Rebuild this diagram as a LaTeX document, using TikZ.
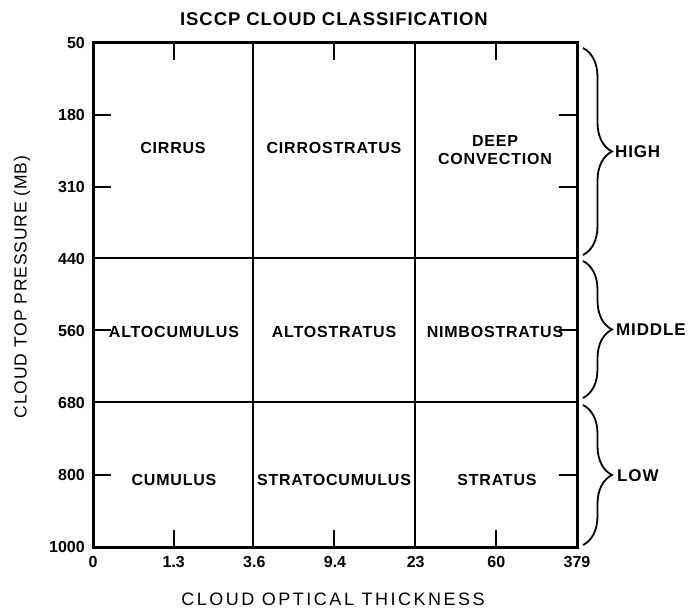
\documentclass[tikz,border=0pt]{standalone}
\usepackage{fontspec}
\setmainfont{Liberation Sans}
\newfontfamily\widefont[LetterSpace=5]{Liberation Sans}
\newfontfamily\widerfont[LetterSpace=14]{Liberation Sans}
\usetikzlibrary{decorations.pathreplacing}
\begin{document}
\begin{tikzpicture}[x=1pt,y=-1pt,
	cell/.style={font=\widefont\bfseries\fontsize{16}{18}\selectfont,align=center,inner sep=1},
	num/.style={font=\bfseries\fontsize{16}{17}\selectfont,inner sep=1},
	axislabel/.style={font=\widerfont\fontsize{18}{19}\selectfont,inner sep=0},
	band/.style={font=\widefont\bfseries\fontsize{17}{18}\selectfont,anchor=west,inner sep=0},
	divider/.style={line width=2.2pt},
	tickmark/.style={line width=1.3pt},
	bracket/.style={line width=1.8pt,decorate,decoration={brace,amplitude=29pt}}]
\useasboundingbox (0,0) rectangle (693,610);
\node[font=\widefont\bfseries\fontsize{18.5}{20}\selectfont] (title) at (334,19) {ISCCP CLOUD CLASSIFICATION};
\draw[line width=3pt] (93,43) rectangle (577,547);
\draw[divider] (93,258) -- (577,258) (93,402) -- (577,402);
\draw[divider] (253,43) -- (253,547) (415,43) -- (415,547);
\foreach \y in {115,187,330,475} {
	\draw[tickmark] (93,\y) -- +(18,0);
	\draw[tickmark] (577,\y) -- +(-18,0);
}
\foreach \x in {174,334,496} {
	\draw[tickmark] (\x,43) -- +(0,17);
	\draw[tickmark] (\x,547) -- +(0,-17);
}
\foreach \v [count=\i from 0] in {50,180,310,440,560,680,800,1000}
	\node[num,anchor=east] (p\i) at (86,43+72*\i) {\v};
\foreach \v [count=\i from 0] in {0,1.3,3.6,9.4,23,60,379}
	\node[num] (t\i) at (93+80.67*\i,562) {\v};
\node[cell] (cirrus) at (173,148) {CIRRUS};
\node[cell] (cirrostratus) at (334,148) {CIRROSTRATUS};
\node[cell] (deepconv) at (495,150) {DEEP\\CONVECTION};
\node[cell] (altocu) at (174,332) {ALTOCUMULUS};
\node[cell] (altostr) at (334,332) {ALTOSTRATUS};
\node[cell] (nimbo) at (495,332) {NIMBOSTRATUS};
\node[cell] (cumulus) at (174,480) {CUMULUS};
\node[cell] (stratocu) at (334,480) {STRATOCUMULUS};
\node[cell] (stratus) at (497,480) {STRATUS};
\draw[bracket] (583,48) -- (583,255);
\draw[bracket] (583,261) -- (583,398);
\draw[bracket] (583,405) -- (583,545);
\node[band] (high) at (615,152) {HIGH};
\node[band] (middle) at (616,330) {MIDDLE};
\node[band] (low) at (617,476) {LOW};
\node[axislabel] (xlabel) at (333,599) {CLOUD OPTICAL THICKNESS};
\node[axislabel,font=\widefont\fontsize{17.5}{19}\selectfont,rotate=90] (ylabel) at (22,287) {CLOUD TOP PRESSURE (MB)};
\end{tikzpicture}
\end{document}
